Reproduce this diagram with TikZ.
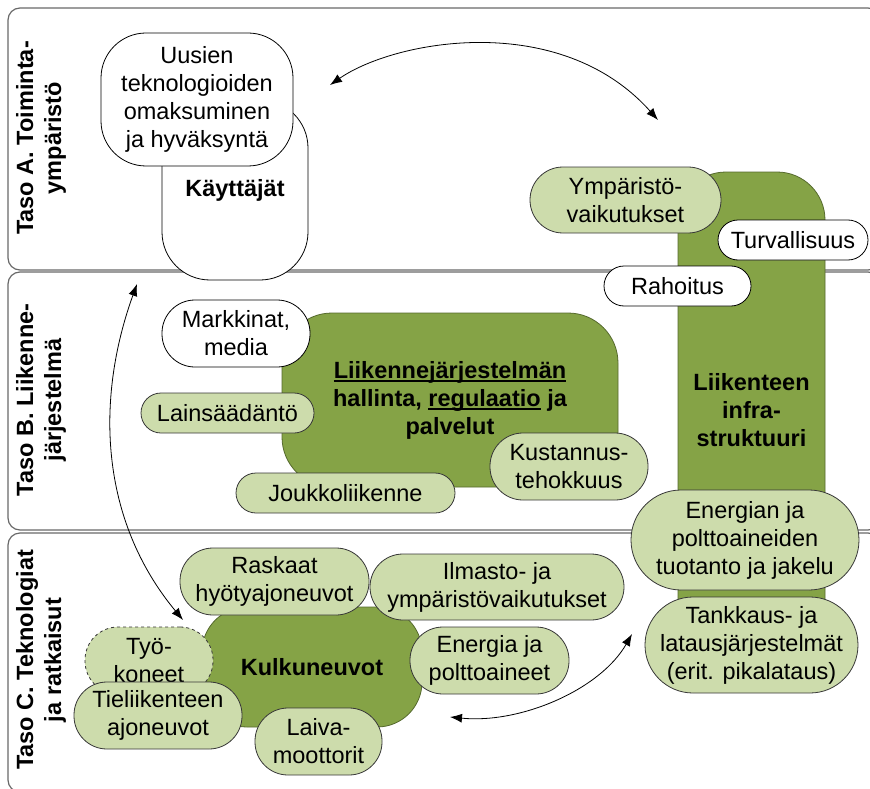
\documentclass[tikz,border=0pt]{standalone}
\usepackage{fontspec}
\setmainfont{Liberation Sans}
\usetikzlibrary{arrows.meta}
\definecolor{leafdark}{RGB}{133,163,70}
\definecolor{leafdarkline}{RGB}{85,105,45}
\definecolor{leaflight}{RGB}{205,220,172}
\definecolor{outline}{RGB}{55,55,55}
\definecolor{bandline}{RGB}{105,105,105}
\newcommand\basefont{\fontsize{23.5}{28}\selectfont}
% underline placed just below the baseline
\newcommand\ulbar[1]{\setbox0\hbox{#1}\rlap{\rule[-3.5pt]{\wd0}{1.6pt}}\box0}
\begin{document}
\begin{tikzpicture}[x=1pt,y=-1pt,
  base/.style={font=\basefont, align=center, inner sep=0pt, line width=0.8pt, text=black},
  boldtext/.style={font={\bfseries\basefont}},
  whitebox/.style={base, draw=black, fill=white},
  lightbox/.style={base, draw=outline, fill=leaflight},
  darkbox/.style={base, boldtext, draw=leafdarkline, fill=leafdark},
  band/.style={draw=bandline, line width=1.2pt, rounded corners=12pt},
  bandlabel/.style={base, boldtext, rotate=90},
  link/.style={line width=0.8pt, {Latex[length=12pt,width=9pt]}-{Latex[length=12pt,width=9pt]}}]
\useasboundingbox (0,0) rectangle (870,789);

% the three levels
\draw[band] (8,8) rectangle (880,270);
\draw[band] (8,272) rectangle (880,530);
\draw[band] (8,533) rectangle (880,792);
\node[bandlabel] (labA) at (41,138) {Taso A. Toiminta-\\ympäristö};
\node[bandlabel] (labB) at (41,400) {Taso B. Liikenne-\\järjestelmä};
\node[bandlabel] (labC) at (41,660) {Taso C. Teknologiat\\ja ratkaisut};

% level A
\node[whitebox, boldtext, minimum width=146pt, minimum height=180pt, rounded corners=48pt] (users) at (235,190) {Käyttäjät};
\node[whitebox, minimum width=192pt, minimum height=133pt, rounded corners=45pt] (adopt) at (197,99.5) {Uusien\\teknologioiden\\omaksuminen\\ja hyväksyntä};

% infrastructure column
\node[darkbox, minimum width=147pt, minimum height=476pt, rounded corners=48pt] (infra) at (751.5,410) {Liikenteen\\infra-\\struktuuri};
\node[lightbox, minimum width=191pt, minimum height=66pt, rounded corners=33pt] (envimp) at (625.5,200) {Ympäristö-\\vaikutukset};
\node[whitebox, minimum width=150pt, minimum height=40pt, rounded corners=20pt] (safety) at (793,240) {Turvallisuus};
\node[whitebox, minimum width=147pt, minimum height=40pt, rounded corners=20pt] (funding) at (677.5,286) {Rahoitus};

% level B
\node[darkbox, minimum width=336pt, minimum height=174pt, rounded corners=50pt] (mgmt) at (450,400)
  {\ulbar{Liikennejärjestelmän}\\hallinta, \ulbar{regulaatio}\ ja\\palvelut};
\node[whitebox, minimum width=148pt, minimum height=67pt, rounded corners=33pt] (market) at (236,333.5) {Markkinat,\\media};
\node[lightbox, minimum width=173pt, minimum height=40pt, rounded corners=20pt] (law) at (227.5,413) {Lainsäädäntö};
\node[lightbox, minimum width=219pt, minimum height=40pt, rounded corners=20pt] (transit) at (345.5,493) {Joukkoliikenne};
\node[lightbox, minimum width=158pt, minimum height=67pt, rounded corners=33pt] (cost) at (569,466.5) {Kustannus-\\tehokkuus};

% energy supply and charging
\node[lightbox, minimum width=228pt, minimum height=100pt, rounded corners=50pt] (supply) at (745,540) {Energian ja\\polttoaineiden\\tuotanto ja jakelu};
\node[lightbox, minimum width=213pt, minimum height=96pt, rounded corners=48pt] (charge) at (751.5,645) {Tankkaus- ja\\latausjärjestelmät\\(erit. pikalataus)};

% level C
\node[darkbox, minimum width=220pt, minimum height=120pt, rounded corners=45pt] (vehicles) at (312,667) {Kulkuneuvot};
\node[lightbox, minimum width=189pt, minimum height=67pt, rounded corners=33pt] (heavy) at (274.5,581.5) {Raskaat\\hyötyajoneuvot};
\node[lightbox, minimum width=254pt, minimum height=66pt, rounded corners=33pt] (climate) at (497,587) {Ilmasto- ja\\ympäristövaikutukset};
\node[lightbox, minimum width=159pt, minimum height=67pt, rounded corners=33pt] (fuels) at (489.5,660.5) {Energia ja\\polttoaineet};
\node[lightbox, dashed, minimum width=128pt, minimum height=67pt, rounded corners=33pt] (machines) at (149,660.5) {Työ-\\koneet};
\node[lightbox, minimum width=168pt, minimum height=67pt, rounded corners=33pt] (road) at (158,715.5) {Tieliikenteen\\ajoneuvot};
\node[lightbox, minimum width=127pt, minimum height=67pt, rounded corners=33pt] (ship) at (318.5,741.5) {Laiva-\\moottorit};

% two-way influence arrows
\coordinate (topL) at (330,85);
\coordinate (topR) at (658,120);
\draw[link] (topL) .. controls (395,40) and (560,10) .. (topR);
\coordinate (sideT) at (137,284);
\coordinate (sideB) at (183,620);
\draw[link] (sideT) .. controls (95,400) and (100,520) .. (sideB);
\coordinate (lowL) at (450,717);
\coordinate (lowR) at (632,634);
\draw[link] (lowL) .. controls (520,724) and (600,690) .. (lowR);
\end{tikzpicture}
\end{document}
